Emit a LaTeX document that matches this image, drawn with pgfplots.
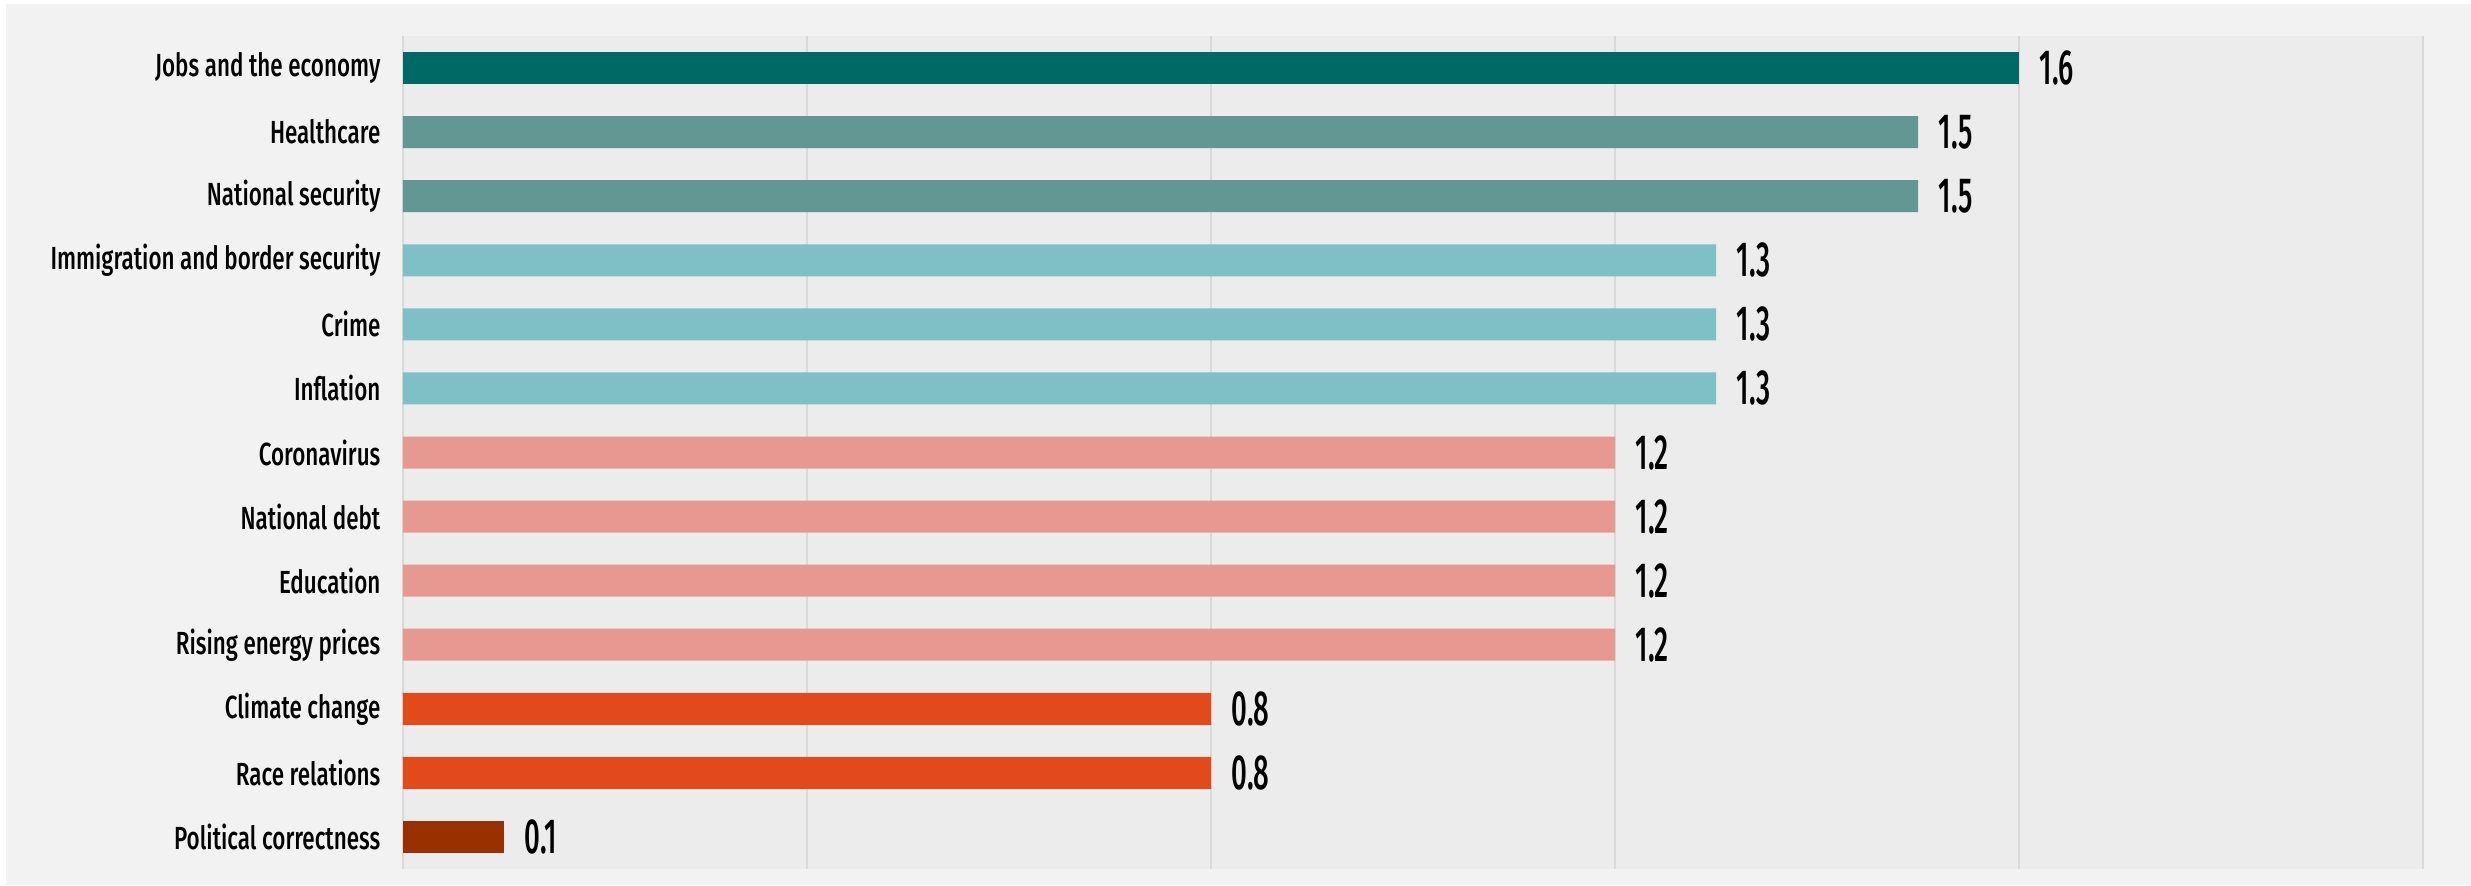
\documentclass[border=0pt]{standalone}
\usepackage{fontspec}
\setmainfont[FakeStretch=0.70]{Fira Sans Medium}
\newfontfamily\valfont[FakeStretch=0.56]{Fira Sans Medium}
\usepackage{pgfplots}
\pgfplotsset{compat=1.18}
\definecolor{outerbg}{HTML}{F2F2F2}
\definecolor{panel}{HTML}{ECECEC}
\definecolor{gridc}{HTML}{D9D9D9}
\definecolor{cA}{HTML}{006865}
\definecolor{cB}{HTML}{629793}
\definecolor{cC}{HTML}{7FC0C6}
\definecolor{cD}{HTML}{E69891}
\definecolor{cE}{HTML}{E34A1B}
\definecolor{cF}{HTML}{993000}
\begin{document}
\begin{tikzpicture}
\fill[white] (0,0) rectangle (741.3pt,265.5pt);
\fill[outerbg] (1.8pt,0) rectangle (741.3pt,264.3pt);
\begin{axis}[
  at={(120.9pt,4.8pt)}, anchor=south west,
  width=606pt, height=249.9pt, scale only axis,
  xmin=0, xmax=2, ymin=-0.5, ymax=12.5, y dir=reverse,
  axis background/.style={fill=panel},
  axis line style={draw=none},
  major tick length=0pt,
  xtick={0,0.4,0.8,1.2,1.6,2}, xticklabels={},
  xmajorgrids, grid style={color=gridc, line width=0.6pt},
  ytick={0,...,12},
  yticklabels={Jobs and the economy,Healthcare,National security,Immigration and border security,Crime,Inflation,Coronavirus,National debt,Education,Rising energy prices,Climate change,Race relations,Political correctness},
  yticklabel style={font=\fontsize{9.6}{10}\selectfont, anchor=east, inner sep=0pt, xshift=-6.6pt},
  xbar, bar width=9.6pt, bar shift=0pt,
  nodes near coords={\pgfmathprintnumber[fixed,zerofill,precision=1,assume math mode=true]{\pgfplotspointmeta}},
  every node near coord/.append style={font=\valfont\fontsize{14.8}{15}\selectfont, anchor=west, inner sep=0pt, xshift=6pt, text=black},
  point meta=x,
]
\addplot[fill=cA, draw=none] coordinates {(1.6,0)};
\addplot[fill=cB, draw=none] coordinates {(1.5,1) (1.5,2)};
\addplot[fill=cC, draw=none] coordinates {(1.3,3) (1.3,4) (1.3,5)};
\addplot[fill=cD, draw=none] coordinates {(1.2,6) (1.2,7) (1.2,8) (1.2,9)};
\addplot[fill=cE, draw=none] coordinates {(0.8,10) (0.8,11)};
\addplot[fill=cF, draw=none] coordinates {(0.1,12)};
\end{axis}
\pgfresetboundingbox
\path (0,0) rectangle (741.3pt,265.5pt);
\end{tikzpicture}
\end{document}
